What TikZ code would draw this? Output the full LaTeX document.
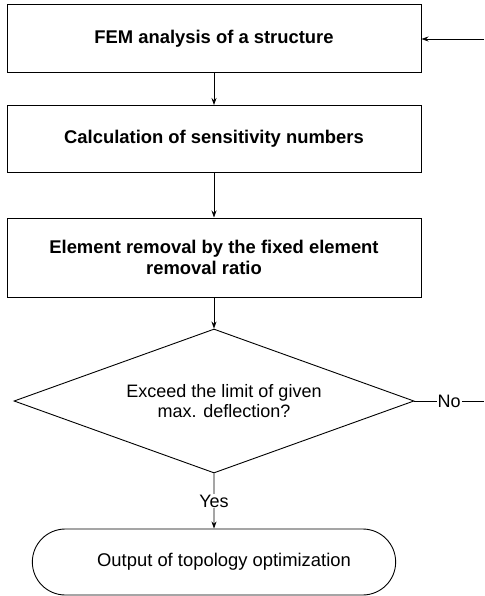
\documentclass[tikz,border=0pt]{standalone}
\usepackage{fontspec}
\setmainfont{Liberation Sans}
\usetikzlibrary{arrows.meta, shapes.geometric, shapes.misc, positioning}

\begin{document}
\begin{tikzpicture}
    %defining some styles
    [
        x=1pt, y=1pt,
        process/.style={rectangle, draw=black, line width=1pt, minimum width=414pt, inner sep=0pt,
            align=center, font=\fontsize{18.4}{21}\selectfont\bfseries},
        decision/.style={diamond, draw=black, line width=0.9pt, aspect=2.78, inner sep=0pt,
            minimum width=400pt, minimum height=144pt, align=center, font=\fontsize{18}{20}\selectfont},
        terminal/.style={rounded rectangle, draw=black, line width=0.9pt, minimum width=370pt,
            minimum height=66pt, font=\fontsize{18.4}{21}\selectfont},
        flow/.style={line width=0.8pt, -{Stealth[length=7pt, width=5pt]}},
        answer/.style={fill=white, inner sep=1pt, font=\fontsize{18}{20}\selectfont},
    ]
    \useasboundingbox (0,0) rectangle (484,-596);
    \node (fem) at (214,-39) [process, minimum height=68pt] {FEM analysis of a structure};
    \node (calc) at (214,-139) [process, minimum height=67pt] {Calculation of sensitivity numbers};
    \node (removal) at (214,-257.5) [process, minimum height=79pt]
        {Element removal by the fixed element\\removal ratio\hspace*{20pt}};
    \node (check) at (214,-401) [decision]
        {\hspace*{20pt}Exceed the limit of given\\\hspace*{20pt}max. deflection?};
    \node (out) at (214,-562) [terminal] {\hspace*{20pt}Output of topology optimization};
    \coordinate (noend) at (484,-401);
    \coordinate (back) at (484,-39);
    \draw[flow] (fem) -- (calc);
    \draw[flow] (calc) -- (removal);
    \draw[flow] (removal) -- (check);
    \draw[flow] (check) -- node[answer] {Yes} (out);
    \draw[line width=0.8pt] (check.east) -- node[answer] {No} (noend);
    \draw[flow] (back) -- (fem);
\end{tikzpicture}
\end{document}
